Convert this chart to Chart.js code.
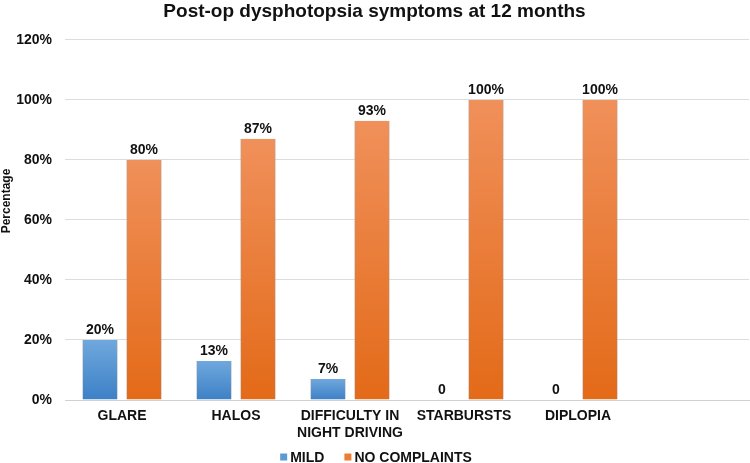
<!DOCTYPE html>
<html>
<head>
<meta charset="utf-8">
<script src="https://cdn.jsdelivr.net/npm/chart.js@4.4.1/dist/chart.umd.min.js"></script>
<style>
  html, body { margin: 0; padding: 0; background: #fff; }
  #wrap { width: 750px; height: 463px; }
</style>
</head>
<body>
<div id="wrap"><canvas id="bar-chart" width="750" height="463"></canvas></div>
<script>
var categories = [["GLARE"], ["HALOS"], ["DIFFICULTY IN", "NIGHT DRIVING"], ["STARBURSTS"], ["DIPLOPIA"], [""]];
var mild = [20, 13, 7, 0, 0, null];
var noComplaints = [80, 87, 93, 100, 100, null];
var yTicks = [0, 20, 40, 60, 80, 100, 120];
var seriesNames = ["MILD", "NO COMPLAINTS"];
var legendColors = ['#5b9bd5', '#ed7d31'];

var FONT = "'Liberation Sans', Arial, sans-serif";

// gradient per bar, light at top, dark at bottom
function barGradient(light, dark) {
  return function(ctx) {
    var chart = ctx.chart;
    var v = ctx.raw;
    if (!chart.chartArea || v === null || v === undefined) return dark;
    var ys = chart.scales.y;
    var top = ys.getPixelForValue(v);
    var bottom = ys.getPixelForValue(0);
    if (bottom - top < 1) return dark;
    var g = chart.ctx.createLinearGradient(0, top, 0, bottom);
    g.addColorStop(0, light);
    g.addColorStop(1, dark);
    return g;
  };
}

// value labels on top of each bar
var valueLabels = {
  id: 'valueLabels',
  afterDatasetsDraw: function(chart) {
    var ctx = chart.ctx;
    ctx.save();
    ctx.font = "bold 14px " + FONT;
    ctx.fillStyle = '#111';
    ctx.textAlign = 'center';
    ctx.textBaseline = 'alphabetic';
    chart.data.datasets.forEach(function(ds, i) {
      var meta = chart.getDatasetMeta(i);
      meta.data.forEach(function(bar, j) {
        var v = ds.data[j];
        if (v === null || v === undefined) return;
        var txt = v === 0 ? '0' : v + '%';
        ctx.fillText(txt, bar.x, bar.y - 6);
      });
    });
    ctx.restore();
  }
};

// legend under the x labels + the y axis title (sits a bit above middle in the original)
var extras = {
  id: 'extras',
  afterDraw: function(chart) {
    var ctx = chart.ctx;
    ctx.save();
    ctx.font = "bold 14px " + FONT;
    ctx.textBaseline = 'middle';
    ctx.textAlign = 'left';
    var box = 7, gapTxt = 3, gapItem = 20;
    var total = 0;
    seriesNames.forEach(function(n, i) {
      total += box + gapTxt + ctx.measureText(n).width;
      if (i < seriesNames.length - 1) total += gapItem;
    });
    var x = 376 - total / 2;
    var y = 457;
    seriesNames.forEach(function(n, i) {
      ctx.fillStyle = legendColors[i];
      ctx.fillRect(x, y - box / 2, box, box);
      x += box + gapTxt;
      ctx.fillStyle = '#111';
      ctx.fillText(n, x, y + 1);
      x += ctx.measureText(n).width + gapItem;
    });

    ctx.translate(7, 201);
    ctx.rotate(-Math.PI / 2);
    ctx.textAlign = 'center';
    ctx.font = "bold 12px " + FONT;
    ctx.fillText('Percentage', 0, 0);
    ctx.restore();
  }
};

new Chart(document.getElementById("bar-chart"), {
  type: 'bar',
  data: {
    labels: categories,
    datasets: [{
      label: seriesNames[0],
      data: mild,
      backgroundColor: barGradient('#6fa8dd', '#3d80c6'),
      borderColor: 'rgba(150,150,150,0.35)',
      borderWidth: {top: 0, left: 1, right: 1, bottom: 0},
      categoryPercentage: 0.772,
      barPercentage: 0.818
    }, {
      label: seriesNames[1],
      data: noComplaints,
      backgroundColor: barGradient('#f0905a', '#e36a18'),
      borderColor: 'rgba(150,150,150,0.35)',
      borderWidth: {top: 0, left: 1, right: 1, bottom: 0},
      categoryPercentage: 0.772,
      barPercentage: 0.818
    }]
  },
  options: {
    responsive: false,
    animation: false,
    layout: { padding: { left: 0, right: 1, top: 0, bottom: 0 } },
    plugins: {
      title: {
        display: true,
        text: 'Post-op dysphotopsia symptoms at 12 months',
        color: '#111',
        font: { family: FONT, size: 19, weight: 'bold' },
        padding: { top: 0, bottom: 17 }
      },
      legend: { display: false },
      tooltip: { enabled: false }
    },
    scales: {
      x: {
        afterFit: function(scale) { scale.height = 63; },
        grid: { display: false, drawTicks: false },
        border: { display: true, color: '#d0d0d0' },
        ticks: {
          color: '#111',
          padding: 8,
          maxRotation: 0,
          autoSkip: false,
          font: { family: FONT, size: 14, weight: 'bold' }
        }
      },
      y: {
        min: 0,
        max: 120,
        afterFit: function(scale) { scale.width = 65; },
        afterBuildTicks: function(scale) {
          scale.ticks = yTicks.map(function(v) { return { value: v }; });
        },
        grid: { color: '#dcdcdc', drawTicks: false },
        border: { display: false },
        ticks: {
          color: '#111',
          padding: 13,
          font: { family: FONT, size: 14, weight: 'bold' },
          callback: function(v) { return v + '%'; }
        }
      }
    }
  },
  plugins: [valueLabels, extras]
});
</script>
</body>
</html>
